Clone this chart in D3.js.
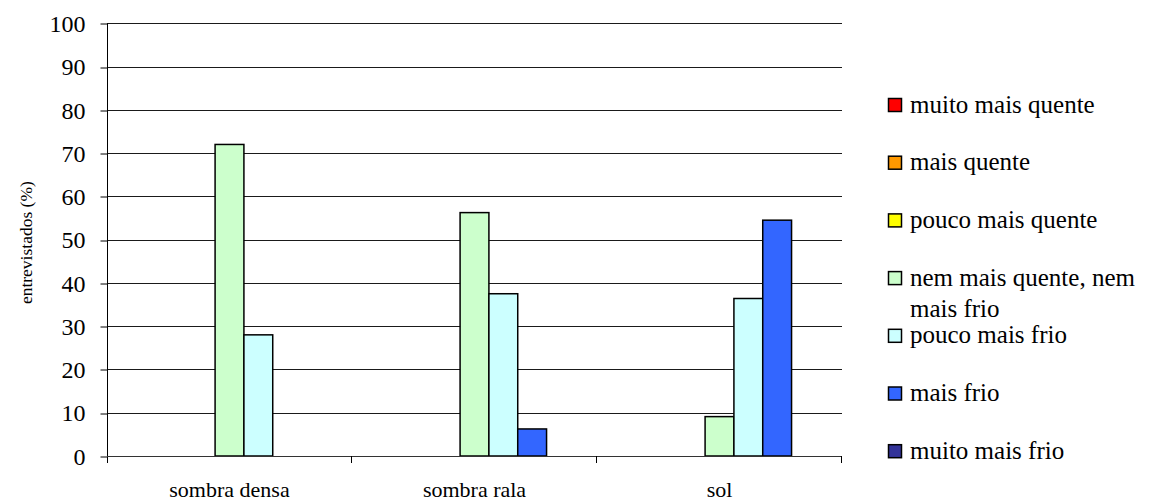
<!DOCTYPE html>
<html>
<head>
<meta charset="utf-8">
<script src="https://cdn.jsdelivr.net/npm/d3@7"></script>
<style>
  html, body { margin: 0; padding: 0; background: #fff; }
  svg { display: block; }
  svg text { font-family: 'Liberation Serif', 'Times New Roman', Times, 'DejaVu Serif', serif !important; fill: #000; }
</style>
</head>
<body>
<svg id="chart" width="1150" height="502"></svg>
<script>
const categories = ["sombra densa", "sombra rala", "sol"];
const seriesNames = [
  "muito mais quente",
  "mais quente",
  "pouco mais quente",
  "nem mais quente, nem mais frio",
  "pouco mais frio",
  "mais frio",
  "muito mais frio"
];
const legendLabels = [
  ["muito mais quente"],
  ["mais quente"],
  ["pouco mais quente"],
  ["nem mais quente, nem", "mais frio"],
  ["pouco mais frio"],
  ["mais frio"],
  ["muito mais frio"]
];
const seriesColors = ["#FF0000", "#FF9900", "#FFFF00", "#CCFFCC", "#CCFFFF", "#3366FF", "#333399"];
const muitoMaisQuente = [0, 0, 0];
const maisQuente = [0, 0, 0];
const poucoMaisQuente = [0, 0, 0];
const nemQuenteNemFrio = [72.0, 56.25, 9.1];
const poucoMaisFrio = [28.0, 37.5, 36.4];
const maisFrio = [0, 6.25, 54.5];
const muitoMaisFrio = [0, 0, 0];
const seriesValues = [muitoMaisQuente, maisQuente, poucoMaisQuente, nemQuenteNemFrio, poucoMaisFrio, maisFrio, muitoMaisFrio];
const yTicks = [0, 10, 20, 30, 40, 50, 60, 70, 80, 90, 100];
const yTitle = "entrevistados (%)";

const FONT = "'Liberation Serif', 'Times New Roman', Times, 'DejaVu Serif', serif";
const svg = d3.select("#chart").attr("font-family", FONT);
const pLeft = 107, pRight = 842, pTop = 23.3, pBottom = 456;

const x0 = d3.scaleBand().domain(categories).range([pLeft, pRight]).paddingInner(0).paddingOuter(0);
const x1 = d3.scaleBand().domain(seriesNames).range([0, x0.bandwidth()]).paddingInner(0).paddingOuter(0.75);
const y = d3.scaleLinear().domain([0, 100]).range([pBottom, pTop]);

// gridlines
svg.append("g")
  .selectAll("line")
  .data(yTicks.filter(d => d > 0))
  .join("line")
  .attr("x1", pLeft).attr("x2", pRight)
  .attr("y1", d => Math.round(y(d)) + 0.5).attr("y2", d => Math.round(y(d)) + 0.5)
  .attr("stroke", "#1a1a1a").attr("stroke-width", 1);

// y axis
const yAxis = svg.append("g")
  .attr("transform", `translate(${pLeft + 0.5},0)`)
  .call(d3.axisLeft(y).tickValues(yTicks).tickSize(7).tickPadding(15).tickSizeOuter(0));
yAxis.attr("font-family", FONT);
yAxis.select(".domain").remove();
yAxis.selectAll(".tick line").attr("stroke", "#000").attr("transform", function(d){ return `translate(0,${Math.round(y(d)) + 0.5 - y(d)})`; });
yAxis.selectAll(".tick text")
  .attr("font-family", FONT)
  .attr("font-size", 24).attr("fill", "#000").attr("dy", "0.34em");

// bars
const groups = svg.append("g").selectAll("g")
  .data(categories)
  .join("g")
  .attr("transform", d => `translate(${x0(d)},0)`);

groups.selectAll("rect")
  .data((c, ci) => seriesNames.map((s, si) => ({ s, si, v: seriesValues[si][ci] })).filter(d => d.v > 0))
  .join("rect")
  .attr("x", d => x1(d.s))
  .attr("width", x1.bandwidth())
  .attr("y", d => y(d.v))
  .attr("height", d => y(0) - y(d.v))
  .attr("fill", d => seriesColors[d.si])
  .attr("stroke", "#000")
  .attr("stroke-width", 1.5);

// y axis line
svg.append("line")
  .attr("x1", pLeft + 0.5).attr("x2", pLeft + 0.5)
  .attr("y1", pTop).attr("y2", pBottom + 7)
  .attr("stroke", "#000");

// x axis
const xTickPos = categories.map(c => x0(c)).concat([pRight]);
svg.append("line")
  .attr("x1", pLeft).attr("x2", pRight)
  .attr("y1", Math.round(pBottom) + 0.5).attr("y2", Math.round(pBottom) + 0.5)
  .attr("stroke", "#333");
svg.append("g").selectAll("line")
  .data(xTickPos.slice(1))
  .join("line")
  .attr("x1", d => Math.round(d) - 0.5).attr("x2", d => Math.round(d) - 0.5)
  .attr("y1", pBottom).attr("y2", pBottom + 7)
  .attr("stroke", "#000");
svg.append("g").selectAll("text")
  .data(categories)
  .join("text")
  .attr("x", d => x0(d) + x0.bandwidth() / 2)
  .attr("y", 497)
  .attr("text-anchor", "middle")
  .attr("font-family", FONT)
  .attr("font-size", 22)
  .text(d => d);

// y title
svg.append("text")
  .attr("transform", `translate(32,${(pTop + pBottom) / 2 + 3}) rotate(-90)`)
  .attr("text-anchor", "middle")
  .attr("font-family", FONT)
  .attr("font-size", 17.5)
  .text(yTitle);

// legend
const legend = svg.append("g").selectAll("g")
  .data(seriesNames)
  .join("g")
  .attr("transform", (d, i) => `translate(888,${105 + i * 57.7})`);
legend.append("rect")
  .attr("x", 0.5).attr("y", -6.5)
  .attr("width", 13).attr("height", 13)
  .attr("fill", (d, i) => seriesColors[i])
  .attr("stroke", "#000").attr("stroke-width", 1.5);
legend.each(function(d, i) {
  const t = d3.select(this).append("text")
    .attr("x", 22).attr("y", 7.5)
    .attr("font-family", FONT)
    .attr("font-size", 25);
  legendLabels[i].forEach((line, li) => {
    t.append("tspan").attr("x", 22).attr("dy", li === 0 ? 0 : 31).text(line);
  });
});
</script>
</body>
</html>
